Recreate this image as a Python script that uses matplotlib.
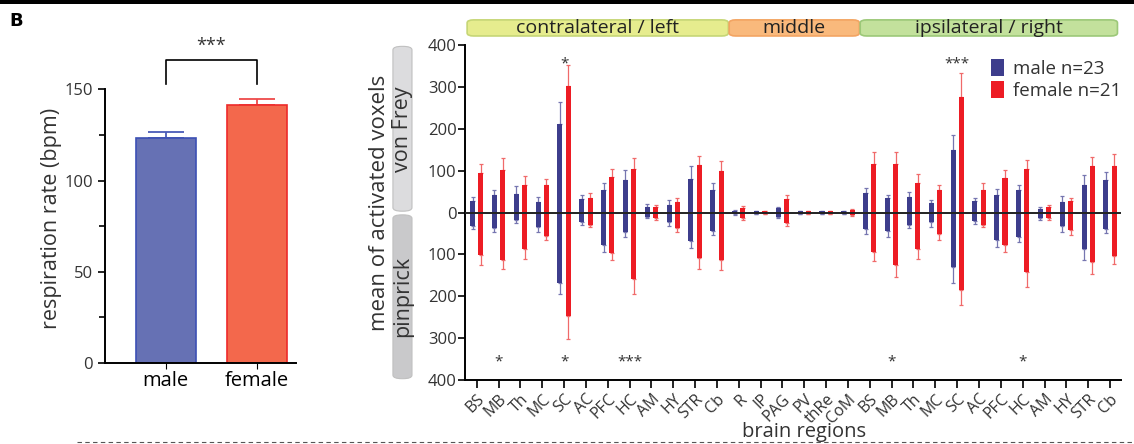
import matplotlib.pyplot as plt
import numpy as np
from matplotlib.patches import FancyBboxPatch, Rectangle
from matplotlib.lines import Line2D
from matplotlib.transforms import ScaledTranslation

plt.rcParams["font.family"] = ["Open Sans", "DejaVu Sans"]

# panel B left: respiration rate
groups = ["male", "female"]
resp_mean = [123.6, 141.4]
resp_sem = [2.9, 3.3]

# panel B right: activated voxels, von Frey (up) and pinprick (down)
regions = ["BS", "MB", "Th", "MC", "SC", "AC", "PFC", "HC", "AM", "HY", "STR", "Cb",
           "R", "IP", "PAG", "PV", "thRe", "CoM",
           "BS", "MB", "Th", "MC", "SC", "AC", "PFC", "HC", "AM", "HY", "STR", "Cb"]
sides = ["contralateral / left", "middle", "ipsilateral / right"]
side_sizes = [12, 6, 12]

male_vf = [28, 42, 44, 26, 211, 32, 54, 77, 14, 19, 79, 54,
           4, 3, 10, 3, 3, 3,
           46, 34, 38, 22, 150, 27, 42, 54, 9, 26, 66, 78]
male_vf_sem = [10, 11, 19, 10, 53, 11, 16, 24, 7, 12, 33, 16,
               2, 1, 4, 1, 1, 1,
               12, 8, 12, 8, 34, 7, 15, 12, 4, 14, 24, 19]
male_pp = [32, 36, 18, 35, 169, 22, 77, 46, 10, 22, 67, 44,
           4, 3, 10, 3, 3, 3,
           40, 44, 30, 22, 130, 20, 66, 59, 14, 32, 88, 40]
male_pp_sem = [8, 10, 8, 11, 26, 7, 17, 12, 3, 9, 17, 10,
               2, 1, 4, 1, 1, 1,
               12, 14, 8, 12, 38, 7, 16, 11, 4, 14, 26, 8]
female_vf = [94, 102, 66, 66, 302, 35, 86, 105, 14, 26, 114, 99,
             10, 3, 33, 3, 3, 6,
             115, 116, 70, 53, 275, 54, 83, 105, 14, 27, 110, 111]
female_vf_sem = [23, 28, 21, 14, 50, 11, 17, 26, 4, 8, 22, 24,
                 6, 1, 10, 1, 1, 2,
                 30, 29, 22, 13, 59, 16, 19, 21, 5, 8, 22, 29]
female_pp = [102, 114, 88, 56, 246, 29, 96, 158, 14, 36, 109, 114,
             14, 3, 25, 3, 3, 6,
             94, 126, 86, 51, 184, 29, 78, 142, 14, 42, 118, 104]
female_pp_sem = [24, 22, 22, 10, 56, 6, 18, 37, 4, 10, 25, 24,
                 3, 1, 7, 1, 1, 2,
                 22, 28, 24, 15, 38, 6, 16, 36, 4, 12, 28, 18]

top_stars = {4: "*", 22: "***"}
bottom_stars = {1: "*", 4: "*", 7: "***", 19: "*", 25: "*"}

TXT = "#333333"
MALE = "#3d3d8c"
FEMALE = "#ed1c24"

fig = plt.figure(figsize=(11.34, 4.44), dpi=100)

# decorations: top black rule, bottom dashed line, panel letter
fig.add_artist(Rectangle((0, 0.992), 1, 0.008, transform=fig.transFigure,
                         color="black", lw=0))
fig.add_artist(Line2D([0.068, 1.0], [0.004, 0.004], transform=fig.transFigure,
                      color="#555555", lw=0.8, ls=(0, (4, 3))))
fig.text(0.008, 0.952, "B", fontsize=13, fontweight="bold", va="center",
         family="DejaVu Sans")

# ---------------- left bar chart ----------------
ax1 = fig.add_axes([0.0926, 0.1824, 0.1684, 0.6164])
x = np.arange(len(groups))
ax1.bar(x, resp_mean, width=0.656, color=["#6671b4", "#f3684c"],
        edgecolor=["#3c50b4", "#ed2a2a"], linewidth=1.2, zorder=2)
for xx, m, e, c in zip(x, resp_mean, resp_sem, ["#4a5cb8", "#ee4a4a"]):
    ax1.errorbar(xx, m, yerr=[[0], [e]], fmt="none", ecolor=c,
                 elinewidth=1.3, capsize=13, capthick=1.3, zorder=1)
ax1.set_xlim(-0.663, 1.424)
ax1.set_ylim(0, 150)
ax1.set_yticks([0, 50, 100, 150])
ax1.set_yticks([25, 75, 125], minor=True)
ax1.set_xticks(x)
ax1.set_xticklabels(groups, fontsize=14.5, color="black")
shift = ScaledTranslation(6 / 100, 0, fig.dpi_scale_trans)
for lbl in ax1.get_xticklabels():
    lbl.set_transform(lbl.get_transform() + shift)
ax1.tick_params(axis="x", length=4, pad=2)
ax1.tick_params(axis="y", labelsize=12, labelcolor=TXT, length=5, width=1.2)
ax1.tick_params(axis="y", which="minor", length=4, width=1.2)
ax1.set_ylabel("respiration rate (bpm)", fontsize=15.5, color=TXT)
ax1.yaxis.set_label_coords(-0.225, 0.53)
for s in ["top", "right"]:
    ax1.spines[s].set_visible(False)
for s in ["left", "bottom"]:
    ax1.spines[s].set_linewidth(1.4)

# significance bracket
ax1.plot([0, 0, 1, 1], [152.7, 166.3, 166.3, 152.7], color="black", lw=1.2,
         clip_on=False)
ax1.text(0.5, 174, "***", ha="center", va="center", fontsize=13,
         color=TXT, clip_on=False)

# ---------------- right diverging bar chart ----------------
ax2 = fig.add_axes([0.410, 0.1441, 0.5785, 0.7545])
xi = np.arange(len(regions))
off, w = 0.19, 0.23
err_m = dict(ecolor="#7676b0", elinewidth=0.9, capsize=1.5, capthick=0.9)
err_f = dict(ecolor="#f06a6a", elinewidth=0.9, capsize=1.5, capthick=0.9)

mvf = np.array(male_vf)
mpp = -np.array(male_pp)
fvf = np.array(female_vf)
fpp = -np.array(female_pp)
zeros = np.zeros(len(xi))

ax2.bar(xi - off, mvf, width=w, color=MALE, zorder=2, label="male n=23")
ax2.bar(xi - off, mpp, width=w, color=MALE, zorder=2)
ax2.bar(xi + off, fvf, width=w, color=FEMALE, zorder=2, label="female n=21")
ax2.bar(xi + off, fpp, width=w, color=FEMALE, zorder=2)
ax2.errorbar(xi - off, mvf, yerr=[zeros, male_vf_sem], fmt="none",
             zorder=1, **err_m)
ax2.errorbar(xi - off, mpp, yerr=[male_pp_sem, zeros], fmt="none",
             zorder=1, **err_m)
ax2.errorbar(xi + off, fvf, yerr=[zeros, female_vf_sem], fmt="none",
             zorder=1, **err_f)
ax2.errorbar(xi + off, fpp, yerr=[female_pp_sem, zeros], fmt="none",
             zorder=1, **err_f)
ax2.axhline(0, color="#222222", lw=1.4, zorder=3)

ax2.set_xlim(-0.54, 29.5)
ax2.set_ylim(-400, 400)
yt = np.arange(-400, 401, 100)
ax2.set_yticks(yt)
ax2.set_yticklabels([str(abs(v)) for v in yt])
ax2.set_xticks(xi)
ax2.set_xticklabels(regions, rotation=45, ha="right", rotation_mode="anchor",
                    fontsize=11.5, color=TXT)
ax2.tick_params(axis="x", length=6, width=1.2, pad=2)
ax2.tick_params(axis="y", labelsize=12, labelcolor=TXT, length=5, width=1.2,
                pad=1)
ax2.set_xlabel("brain regions", fontsize=14.5, color=TXT)
ax2.xaxis.set_label_coords(0.517, -0.125)
ax2.set_ylabel("mean of activated voxels", fontsize=16, color=TXT)
ax2.yaxis.set_label_coords(-0.114, 0.53)
for s in ["top", "right"]:
    ax2.spines[s].set_visible(False)
for s in ["left", "bottom"]:
    ax2.spines[s].set_linewidth(1.4)

for i, t in top_stars.items():
    ax2.text(i, 355, t, ha="center", va="center", fontsize=11, color=TXT)
for i, t in bottom_stars.items():
    ax2.text(i, -356, t, ha="center", va="center", fontsize=11, color=TXT)

# side bands above the plot
band_colors = [("#e6ec8e", "#c6d676"), ("#f9b97c", "#f3a462"),
               ("#c3e19c", "#9cc878")]
start = -0.46
trans = ax2.get_xaxis_transform()
for name, n, (fc, ec) in zip(sides, side_sizes, band_colors):
    end = start + n
    if name == sides[-1]:
        end = 29.36
    ax2.add_patch(FancyBboxPatch((start + 0.02, 1.027), end - start - 0.04, 0.048,
                                 boxstyle="round,pad=0,rounding_size=0.3",
                                 transform=trans, fc=fc, ec=ec, lw=1.2,
                                 clip_on=False, mutation_aspect=0.03))
    ax2.text((start + end) / 2, 1.050, name, transform=trans, ha="center",
             va="center", fontsize=14, color="#222222")
    start = end

# gray stimulus boxes on the y axis
for label, y0, y1, fc in [("von Frey", 0.5, 1.0, "#dcdcde"),
                          ("pinprick", 0.0, 0.497, "#c9c9cb")]:
    box = FancyBboxPatch((0.3465, 0.1441 + y0 * 0.7545 + 0.003), 0.0168,
                         (y1 - y0) * 0.7545 - 0.006,
                         boxstyle="round,pad=0,rounding_size=0.008",
                         transform=fig.transFigure, fc=fc, ec="#c0c0c0",
                         lw=0.8)
    fig.add_artist(box)
    fig.text(0.3552, 0.1441 + (y0 + y1) / 2 * 0.7545, label, rotation=90,
             ha="center", va="center", fontsize=15.5, color=TXT)

# legend
ax2.legend(loc="upper left", bbox_to_anchor=(0.79, 0.98), frameon=False,
           fontsize=13.5, handlelength=0.7, handleheight=1.0,
           handletextpad=0.5, labelspacing=0.15, borderaxespad=0,
           labelcolor=TXT)

fig.savefig("out.png", dpi=100)
